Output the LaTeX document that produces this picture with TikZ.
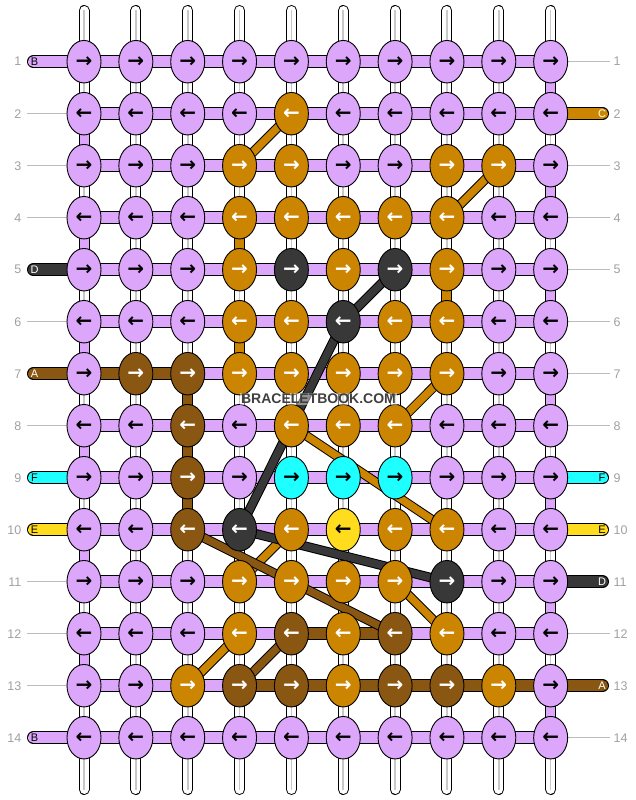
\documentclass[tikz,border=0pt]{standalone}
\usepackage{fontspec}
\setmainfont{Liberation Sans}
\newfontfamily\arrowfont{DejaVu Sans}
\usetikzlibrary{shapes.geometric}
\definecolor{lav}{HTML}{DCA6FA}
\definecolor{org}{HTML}{CC8500}
\definecolor{brn}{HTML}{8A5712}
\definecolor{drk}{HTML}{383838}
\definecolor{cyn}{HTML}{1EFFFF}
\definecolor{ylw}{HTML}{FFDC1E}
\definecolor{numgray}{HTML}{A0A0A0}
\definecolor{guide}{HTML}{BBBBBB}
\definecolor{warpline}{HTML}{C8C8C8}
\definecolor{wmark}{HTML}{404040}
\pgfdeclarelayer{bg}
\pgfdeclarelayer{mid}
\pgfsetlayers{bg,mid,main}
\begin{document}
\begin{tikzpicture}[x=1pt,y=-1pt,
  knot/.style={ellipse, draw=black, line width=0.9pt, minimum width=34pt, minimum height=42.5pt, inner sep=0pt, font=\arrowfont\bfseries\fontsize{20}{20}\selectfont},
  kL/.style={fill=lav,text=black},
  kO/.style={fill=org,text=white},
  kB/.style={fill=brn,text=white},
  kD/.style={fill=drk,text=white},
  kC/.style={fill=cyn,text=black},
  kY/.style={fill=ylw,text=black},
  warp/.style={draw=white, line width=9pt, line cap=round, preaction={draw=black, line width=11pt, line cap=round}, postaction={draw=warpline, line width=1.6pt, line cap=butt}},
  hs/.style={line width=11pt, preaction={draw=black, line width=13pt}},
  vs/.style={line width=9pt, preaction={draw=black, line width=11pt}},
  tail/.style={line width=11pt, line cap=round, preaction={draw=black, line width=13pt, line cap=round}},
  dg/.style={line width=7.5pt, preaction={draw=black, line width=9.5pt}},
  num/.style={text=numgray, font=\fontsize{12.5}{12.5}\selectfont, inner sep=0pt},
  tag/.style={font=\fontsize{11}{11}\selectfont, inner sep=0pt},
  guideline/.style={draw=guide, line width=0.9pt},
  wm/.style={text=wmark, font=\bfseries\fontsize{14}{14}\selectfont, fill=white, fill opacity=0.45, text opacity=1, inner sep=1pt}
]
\useasboundingbox (0,0) rectangle (636,800);

% knots
\foreach \r/\row in {
 1/{L,L,L,L,L,L,L,L,L,L},
 2/{L,L,L,L,O,L,L,L,L,L},
 3/{L,L,L,O,O,L,L,O,O,L},
 4/{L,L,L,O,O,O,O,O,L,L},
 5/{L,L,L,O,D,O,D,O,L,L},
 6/{L,L,L,O,O,D,O,O,L,L},
 7/{L,B,B,O,O,O,O,O,L,L},
 8/{L,L,B,L,O,O,O,L,L,L},
 9/{L,L,B,L,C,C,C,L,L,L},
 10/{L,L,B,D,O,Y,O,O,L,L},
 11/{L,L,L,O,O,O,O,D,L,L},
 12/{L,L,L,O,B,O,B,O,L,L},
 13/{L,L,O,B,B,O,B,B,O,L},
 14/{L,L,L,L,L,L,L,L,L,L}}{
  \foreach \k [count=\c] in \row {
    \ifodd\r
      \node[knot,k\k] (k-\r-\c) at ({84+51.85*(\c-1)},{61.7+52*(\r-1)}) {→};
    \else
      \node[knot,k\k] (k-\r-\c) at ({84+51.85*(\c-1)},{61.7+52*(\r-1)}) {←};
    \fi
  }
}

% warp end points
\foreach \c in {1,...,10}{
  \coordinate (T-\c) at ({84+51.85*(\c-1)},10.5);
  \coordinate (U-\c) at ({84+51.85*(\c-1)},789.5);
}
% side points
\foreach \r in {1,...,14}{
  \coordinate (E-\r) at (33.5,{61.7+52*(\r-1)});
  \coordinate (F-\r) at (602.5,{61.7+52*(\r-1)});
  \coordinate (GL-\r) at (27,{61.7+52*(\r-1)});
  \coordinate (GR-\r) at (610,{61.7+52*(\r-1)});
  \node[num,anchor=east] (nl-\r) at (21.5,{61.7+52*(\r-1)}) {\r};
  \node[num,anchor=west] (nr-\r) at (613.5,{61.7+52*(\r-1)}) {\r};
}

\begin{pgfonlayer}{bg}
  \foreach \c in {1,...,10} \draw[warp] (T-\c) -- (U-\c);
  \foreach \r in {1,...,14} \draw[hs,draw=lav] (k-\r-1.center) -- (k-\r-10.center);
  % brown horizontal runs
  \draw[hs,draw=brn] (k-7-1.center) -- (k-7-3.center);
  \draw[hs,draw=brn] (k-12-5.center) -- (k-12-7.center);
  \draw[hs,draw=brn] (k-13-4.center) -- (k-13-10.center);
  % edge turns
  \foreach \r/\s in {2/3,4/5,6/7,8/9,10/11,12/13}
    \draw[vs,draw=lav] (k-\r-1.center) -- (k-\s-1.center);
  \foreach \r/\s in {1/2,3/4,5/6,7/8,9/10,11/12,13/14}
    \draw[vs,draw=lav] (k-\r-10.center) -- (k-\s-10.center);
  % coloured vertical runs
  \draw[vs,draw=org] (k-4-4.center) -- (k-5-4.center);
  \draw[vs,draw=org] (k-6-4.center) -- (k-7-4.center);
  \draw[vs,draw=org] (k-5-8.center) -- (k-6-8.center);
  \draw[vs,draw=brn] (k-7-3.center) -- (k-10-3.center);
  % tails left
  \draw[tail,draw=lav] (E-1) -- (k-1-1.center);
  \draw[tail,draw=drk] (E-5) -- (k-5-1.center);
  \draw[tail,draw=brn] (E-7) -- (k-7-1.center);
  \draw[tail,draw=cyn] (E-9) -- (k-9-1.center);
  \draw[tail,draw=ylw] (E-10) -- (k-10-1.center);
  \draw[tail,draw=lav] (E-14) -- (k-14-1.center);
  % tails right
  \draw[tail,draw=org] (k-2-10.center) -- (F-2);
  \draw[tail,draw=cyn] (k-9-10.center) -- (F-9);
  \draw[tail,draw=ylw] (k-10-10.center) -- (F-10);
  \draw[tail,draw=drk] (k-11-10.center) -- (F-11);
  \draw[tail,draw=brn] (k-13-10.center) -- (F-13);
  % guide lines
  \foreach \r in {2,3,4,6,8,11,12,13} \draw[guideline] (GL-\r) -- (k-\r-1.west);
  \foreach \r in {1,3,4,5,6,7,8,12,14} \draw[guideline] (k-\r-10.east) -- (GR-\r);
\end{pgfonlayer}

\begin{pgfonlayer}{mid}
  \draw[dg,draw=org] (k-2-5.center) -- (k-3-4.center);
  \draw[dg,draw=org] (k-3-9.center) -- (k-4-8.center);
  \draw[dg,draw=org] (k-7-8.center) -- (k-8-7.center);
  \draw[dg,draw=org] (k-8-5.center) -- (k-10-8.center);
  \draw[dg,draw=org] (k-10-5.center) -- (k-11-4.center);
  \draw[dg,draw=org] (k-11-7.center) -- (k-12-8.center);
  \draw[dg,draw=org] (k-12-4.center) -- (k-13-3.center);
  \draw[dg,draw=drk] (k-5-7.center) -- (k-6-6.center);
  \draw[dg,draw=drk] (k-6-6.center) -- (k-10-4.center);
  \draw[dg,draw=drk] (k-10-4.center) -- (k-11-8.center);
  \draw[dg,draw=brn] (k-10-3.center) -- (k-12-7.center);
  \draw[dg,draw=brn] (k-12-5.center) -- (k-13-4.center);
\end{pgfonlayer}

% tail letters
\node[tag,text=black] (tl-1) at (34.5,61.7) {B};
\node[tag,text=white] (tl-5) at (34.5,269.7) {D};
\node[tag,text=white] (tl-7) at (34.5,373.7) {A};
\node[tag,text=black] (tl-9) at (34.5,477.7) {F};
\node[tag,text=black] (tl-10) at (34.5,529.7) {E};
\node[tag,text=black] (tl-14) at (34.5,737.7) {B};
\node[tag,text=white] (tr-2) at (602,113.7) {C};
\node[tag,text=black] (tr-9) at (602,477.7) {F};
\node[tag,text=black] (tr-10) at (602,529.7) {E};
\node[tag,text=white] (tr-11) at (602,581.7) {D};
\node[tag,text=white] (tr-13) at (602,685.7) {A};

\node[wm] (wm) at (318.5,399) {BRACELETBOOK.COM};
\end{tikzpicture}
\end{document}
